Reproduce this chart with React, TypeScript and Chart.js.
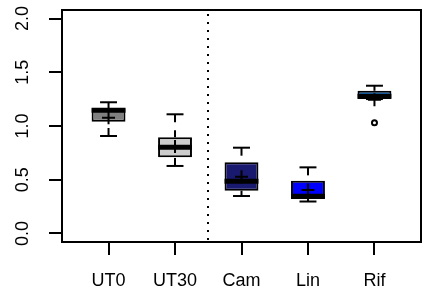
import React, { useEffect, useRef } from "react";
import { Chart, registerables } from "chart.js";

Chart.register(...registerables);

// ---- data ----
const categories = ["UT0", "UT30", "Cam", "Lin", "Rif"];
const whiskerLow = [0.907, 0.628, 0.348, 0.297, 1.251];
const boxLow = [1.04, 0.709, 0.398, 0.32, 1.251];
const medians = [1.146, 0.802, 0.485, 0.347, 1.278];
const boxHigh = [1.165, 0.895, 0.662, 0.49, 1.328];
const whiskerHigh = [1.221, 1.109, 0.798, 0.615, 1.375];
const means = [1.077, 0.81, 0.528, 0.404, 1.245];
const outlierGroup = [5];
const outlierValues = [1.031];
const yTicks = [0, 0.5, 1, 1.5, 2];
const fillColors = ["#808080", "#CCCCCC", "#191970", "#0000FF", "#1874CD"];
const separatorAt = 2.5;

// ---- styles ----
const BOX_WIDTH = 0.51;
const HALF_BOX = BOX_WIDTH / 2;
const HALF_CAP = BOX_WIDTH / 4;
const FONT = { family: '"Liberation Sans", Arial, Helvetica, sans-serif', size: 18 };

const positions = categories.map((_, i) => i + 1);

function segment(points: { x: number; y: number }[], width: number, dash: number[] = []) {
  return {
    type: "line" as const,
    data: points,
    borderColor: "#000",
    borderWidth: width,
    borderDash: dash,
    borderCapStyle: "butt" as const,
    pointRadius: 0,
    fill: false,
    tension: 0,
    order: 1,
  };
}

const framePlugin = {
  id: "frame",
  afterDatasetsDraw(chart: any) {
    const { ctx, chartArea: a, scales } = chart;
    ctx.save();
    const sx = Math.round(scales.x.getPixelForValue(separatorAt));
    ctx.strokeStyle = "#000";
    ctx.lineWidth = 2;
    ctx.setLineDash([2, 6]);
    ctx.beginPath();
    ctx.moveTo(sx, a.top + 4);
    ctx.lineTo(sx, a.bottom);
    ctx.stroke();
    ctx.setLineDash([]);
    ctx.strokeRect(a.left, a.top, a.right - a.left, a.bottom - a.top);
    ctx.restore();
  },
};

export default function App() {
  const ref = useRef<HTMLCanvasElement | null>(null);

  useEffect(() => {
    if (!ref.current) return;
    const datasets: any[] = [];

    datasets.push({
      type: "bar",
      data: positions.map((x, i) => ({ x, y: [boxLow[i], boxHigh[i]] })),
      backgroundColor: fillColors,
      borderColor: "#000",
      borderWidth: 2,
      borderSkipped: false,
      barPercentage: BOX_WIDTH,
      categoryPercentage: 1,
      order: 10,
    });

    positions.forEach((x, i) => {
      datasets.push(segment([{ x, y: whiskerHigh[i] }, { x, y: boxHigh[i] }], 2, [8, 8]));
      datasets.push(segment([{ x, y: whiskerLow[i] }, { x, y: boxLow[i] }], 2, [8, 8]));
      datasets.push(segment([{ x: x - HALF_CAP, y: whiskerHigh[i] }, { x: x + HALF_CAP, y: whiskerHigh[i] }], 2));
      datasets.push(segment([{ x: x - HALF_CAP, y: whiskerLow[i] }, { x: x + HALF_CAP, y: whiskerLow[i] }], 2));
      datasets.push(segment([{ x: x - HALF_BOX, y: medians[i] }, { x: x + HALF_BOX, y: medians[i] }], 5));
    });

    datasets.push({
      type: "line",
      data: positions.map((x, i) => ({ x, y: means[i] })),
      showLine: false,
      pointStyle: "cross",
      pointRadius: 6.5,
      pointBorderWidth: 2,
      pointBorderColor: "#000",
      order: 0,
    });

    datasets.push({
      type: "line",
      data: outlierGroup.map((g, i) => ({ x: g, y: outlierValues[i] })),
      showLine: false,
      pointStyle: "circle",
      pointRadius: 2.5,
      pointBorderWidth: 2,
      pointBorderColor: "#000",
      pointBackgroundColor: "rgba(0,0,0,0)",
      order: 0,
    });

    const gridOpts = {
      drawOnChartArea: false,
      drawTicks: true,
      tickLength: 13,
      tickWidth: 2,
      tickColor: "#000",
      lineWidth: 2,
      color: "#000",
      offset: false,
    };

    const chart = new Chart(ref.current, {
      type: "bar",
      data: { datasets },
      options: {
        responsive: false,
        animation: false,
        devicePixelRatio: 1,
        layout: { padding: { top: 10, right: 11, left: 0, bottom: 0 } },
        plugins: { legend: { display: false }, tooltip: { enabled: false } },
        scales: {
          x: {
            type: "linear",
            min: 0.3,
            max: 5.7,
            offset: false,
            afterBuildTicks: (s: any) => {
              s.ticks = positions.map((v) => ({ value: v }));
            },
            afterFit: (s: any) => {
              s.height = 51;
              s.paddingLeft = 0;
              s.paddingRight = 0;
            },
            ticks: {
              autoSkip: false,
              maxRotation: 0,
              padding: 15,
              color: "#000",
              font: FONT,
              callback: (v: any) => categories[Math.round(v) - 1],
            },
            grid: gridOpts,
            border: { display: false },
          },
          y: {
            type: "linear",
            min: -0.08,
            max: 2.08,
            afterBuildTicks: (s: any) => {
              s.ticks = yTicks.map((v) => ({ value: v }));
            },
            afterFit: (s: any) => {
              s.width = 62;
              s.paddingTop = 0;
              s.paddingBottom = 0;
            },
            ticks: {
              minRotation: 90,
              maxRotation: 90,
              crossAlign: "center",
              padding: 13,
              color: "#000",
              font: FONT,
              callback: (v: any) => Number(v).toFixed(1),
            },
            grid: gridOpts,
            border: { display: false },
          },
        },
      } as any,
      plugins: [framePlugin],
    });
    return () => chart.destroy();
  }, []);

  return (
    <div style={{ position: "absolute", left: 0, top: 0, width: 432, height: 293, background: "#fff" }}>
      <canvas ref={ref} width={432} height={293} style={{ display: "block" }} />
    </div>
  );
}
